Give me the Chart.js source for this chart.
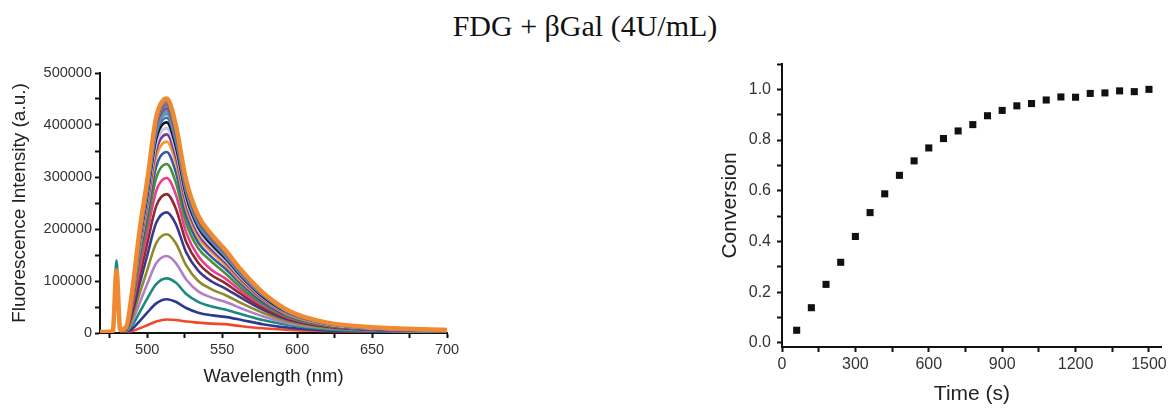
<!DOCTYPE html>
<html>
<head>
<meta charset="utf-8">
<script src="https://cdn.jsdelivr.net/npm/chart.js@4.4.1/dist/chart.umd.min.js"></script>
<style>
  body { margin: 0; background: #fff; }
  #wrap { position: relative; width: 1170px; height: 408px; overflow: hidden; }
  #title { position: absolute; left: 0; top: 8px; width: 1170px; text-align: center;
           font: 30px "Liberation Serif", "Times New Roman", serif; line-height: 36px; color: #111; }
  #spec { position: absolute; left: 0; top: 40px; width: 470px; height: 368px; }
  #conv { position: absolute; left: 690px; top: 40px; width: 480px; height: 368px; }
</style>
</head>
<body>
<div id="wrap">
  <div id="title">FDG + βGal (4U/mL)</div>
  <canvas id="spec" width="470" height="368"></canvas>
  <canvas id="conv" width="480" height="368"></canvas>
</div>
<script>
// sampling times (s), one spectrum per time
const times = [60, 120, 180, 240, 300, 360, 420, 480, 540, 600, 660, 720, 780,
  840, 900, 960, 1020, 1080, 1140, 1200, 1260, 1320, 1380, 1440, 1500];

const conversion = [0.05, 0.139, 0.231, 0.318, 0.42, 0.514, 0.588, 0.661, 0.718, 0.769,
  0.806, 0.836, 0.861, 0.896, 0.917, 0.935, 0.944, 0.958, 0.970, 0.969,
  0.984, 0.986, 0.994, 0.991, 1.0];

// wavelengths (nm) where the spectra were read
const wavelengths = [467, 477, 479.5, 482, 486, 490, 495, 500, 506, 513, 519, 526,
  534, 543, 552, 563, 577, 595, 620, 650, 700];

// fluorescence intensity, in thousands of a.u., one row per time above
const intensity = [
  [0, 1, 112, 4, 2, 4, 9, 15, 22, 26, 25, 22, 20, 18, 17, 13, 9, 6, 4, 2, 1],
  [0, 1, 114, 3, 3, 8, 23, 39, 57, 65, 60, 48, 39, 34, 31, 25, 17, 10, 5, 3, 2],
  [1, 1, 140, 4, 4, 15, 40, 66, 94, 105, 97, 75, 60, 51, 45, 36, 25, 15, 7, 4, 2],
  [1, 2, 118, 5, 5, 22, 58, 94, 134, 148, 135, 103, 80, 68, 60, 47, 32, 18, 9, 5, 3],
  [1, 2, 117, 5, 6, 30, 76, 121, 173, 190, 173, 130, 100, 84, 73, 57, 39, 22, 10, 6, 3],
  [1, 2, 116, 6, 7, 38, 95, 149, 212, 232, 210, 155, 120, 99, 86, 67, 45, 25, 12, 6, 4],
  [1, 2, 118, 6, 7, 45, 110, 172, 244, 267, 240, 175, 135, 111, 96, 74, 49, 27, 13, 7, 4],
  [1, 2, 119, 6, 8, 51, 125, 193, 273, 298, 267, 193, 148, 121, 105, 80, 53, 29, 14, 7, 4],
  [1, 2, 118, 6, 8, 57, 140, 211, 298, 325, 290, 211, 163, 137, 115, 86, 56, 30, 14, 8, 4],
  [1, 2, 119, 6, 9, 61, 152, 226, 320, 348, 310, 226, 174, 146, 124, 93, 60, 32, 15, 8, 5],
  [1, 2, 119, 6, 9, 65, 160, 239, 338, 368, 328, 239, 184, 155, 131, 98, 64, 34, 16, 9, 5],
  [1, 2, 120, 6, 10, 68, 167, 248, 351, 382, 340, 248, 191, 160, 136, 102, 66, 36, 17, 9, 5],
  [1, 3, 120, 6, 10, 70, 172, 256, 362, 394, 351, 256, 197, 165, 140, 105, 68, 37, 17, 9, 5],
  [2, 3, 120, 6, 10, 72, 177, 263, 373, 405, 360, 263, 203, 170, 144, 108, 70, 38, 18, 10, 5],
  [2, 3, 121, 6, 11, 74, 181, 269, 381, 414, 368, 269, 207, 174, 147, 110, 72, 39, 18, 10, 5],
  [2, 3, 121, 6, 11, 75, 184, 273, 387, 421, 375, 274, 211, 177, 149, 112, 73, 39, 19, 10, 5],
  [2, 3, 121, 6, 11, 76, 186, 277, 392, 426, 379, 277, 213, 179, 151, 113, 74, 40, 19, 10, 6],
  [2, 3, 122, 6, 11, 77, 189, 280, 397, 431, 384, 280, 216, 181, 153, 115, 75, 40, 19, 10, 6],
  [2, 3, 122, 6, 12, 78, 191, 283, 401, 436, 388, 283, 218, 183, 155, 116, 75, 41, 19, 10, 6],
  [2, 3, 121, 6, 12, 78, 191, 284, 402, 437, 389, 284, 219, 184, 155, 116, 76, 41, 19, 10, 6],
  [2, 3, 122, 6, 12, 79, 194, 287, 407, 442, 393, 287, 221, 186, 157, 118, 76, 41, 19, 11, 6],
  [2, 3, 121, 6, 12, 79, 194, 288, 408, 443, 394, 288, 222, 186, 157, 118, 77, 41, 19, 11, 6],
  [2, 3, 122, 6, 12, 80, 196, 291, 411, 447, 398, 291, 224, 188, 159, 119, 77, 42, 20, 11, 6],
  [2, 3, 121, 6, 12, 80, 196, 290, 410, 446, 397, 290, 223, 187, 158, 119, 77, 41, 20, 11, 6],
  [2, 3, 120, 6, 12, 81, 199, 293, 415, 451, 401, 293, 226, 189, 160, 120, 78, 42, 20, 11, 6],
];

const lineColors = ['#EE4A2A', '#2B3990', '#1B8A7E', '#B27FC6', '#8E8A2C', '#3A3792',
  '#8B2B2E', '#EE3B8E', '#4C8F3C', '#2E5BA8', '#F59A2E', '#7C3A97', '#C8C3E8',
  '#111111', '#3F6DB4', '#6B8CB8', '#4A9DA5', '#7253A3', '#A24545', '#7F7F7F',
  '#3F3F8F', '#8E68AE', '#5C6E94', '#9A8B6A', '#F08A32'];

const sans = '"Liberation Sans", Arial, sans-serif';

function axisBase(tickSize) {
  return {
    type: 'linear',
    border: { color: '#111', width: 2 },
    grid: { display: true, drawOnChartArea: false, drawTicks: true,
            tickLength: 5, tickColor: '#111', tickWidth: 2 },
    ticks: { includeBounds: false, autoSkip: false, maxRotation: 0, padding: 3,
             color: '#333', font: { family: sans, size: tickSize } },
  };
}

// left: spectra
const last = intensity.length - 1;
const specX = axisBase(14.5);
specX.min = 468.5;
specX.max = 700;
specX.ticks.stepSize = 25;
specX.ticks.callback = v => (v % 50 === 0 ? v : '');
specX.title = { display: true, text: 'Wavelength (nm)', color: '#222',
  font: { family: sans, size: 18.5, lineHeight: 1 }, padding: { top: 0, bottom: 7 } };
specX.afterFit = s => { s.height = 60; };

const specY = axisBase(14.5);
specY.min = 0;
specY.max = 500000;
specY.ticks.stepSize = 50000;
specY.ticks.callback = v => (v % 100000 === 0 ? String(v) : '');
specY.title = { display: true, text: 'Fluorescence Intensity (a.u.)', color: '#222',
  font: { family: sans, size: 19, lineHeight: 1 }, padding: { top: 10.5, bottom: 0 } };
specY.afterFit = s => { s.width = 100; };

new Chart(document.getElementById('spec'), {
  type: 'line',
  data: {
    datasets: intensity.map((row, i) => ({
      label: times[i] + ' s',
      data: row.map((v, j) => ({ x: wavelengths[j], y: v * 1000 })),
      borderColor: lineColors[i],
      borderWidth: i === last ? 4.5 : 2.6,
      pointRadius: 0,
      fill: false,
      cubicInterpolationMode: 'monotone',
      order: last - i,
    })),
  },
  options: {
    responsive: false,
    animation: false,
    layout: { padding: { left: 0, right: 23, top: 33, bottom: 15 } },
    plugins: { legend: { display: false }, tooltip: { enabled: false } },
    scales: { x: specX, y: specY },
  },
});

// right: conversion vs time
const convX = axisBase(16);
convX.min = 0;
convX.max = 1553;
convX.ticks.stepSize = 150;
convX.ticks.callback = v => (v % 300 === 0 ? v : '');
convX.title = { display: true, text: 'Time (s)', color: '#222',
  font: { family: sans, size: 21, lineHeight: 1 }, padding: { top: 0, bottom: 0 } };
convX.afterFit = s => { s.height = 58; };

const convY = axisBase(16);
convY.min = -0.016;
convY.max = 1.1;
convY.ticks.stepSize = 0.1;
convY.ticks.padding = 6;
convY.ticks.callback = v => (Math.round(v * 10) % 2 === 0 ? v.toFixed(1) : '');
convY.title = { display: true, text: 'Conversion', color: '#222',
  font: { family: sans, size: 21, lineHeight: 1 }, padding: { top: 29.5, bottom: 0 } };
convY.afterFit = s => { s.width = 92; };

new Chart(document.getElementById('conv'), {
  type: 'scatter',
  data: {
    datasets: [{
      label: 'Conversion',
      data: times.map((t, i) => ({ x: t, y: conversion[i] })),
      pointStyle: 'rect',
      pointRadius: 5,
      backgroundColor: '#111',
      borderWidth: 0,
    }],
  },
  options: {
    responsive: false,
    animation: false,
    layout: { padding: { left: 0, right: 7, top: 24, bottom: 3 } },
    plugins: { legend: { display: false }, tooltip: { enabled: false } },
    scales: { x: convX, y: convY },
  },
});
</script>
</body>
</html>
